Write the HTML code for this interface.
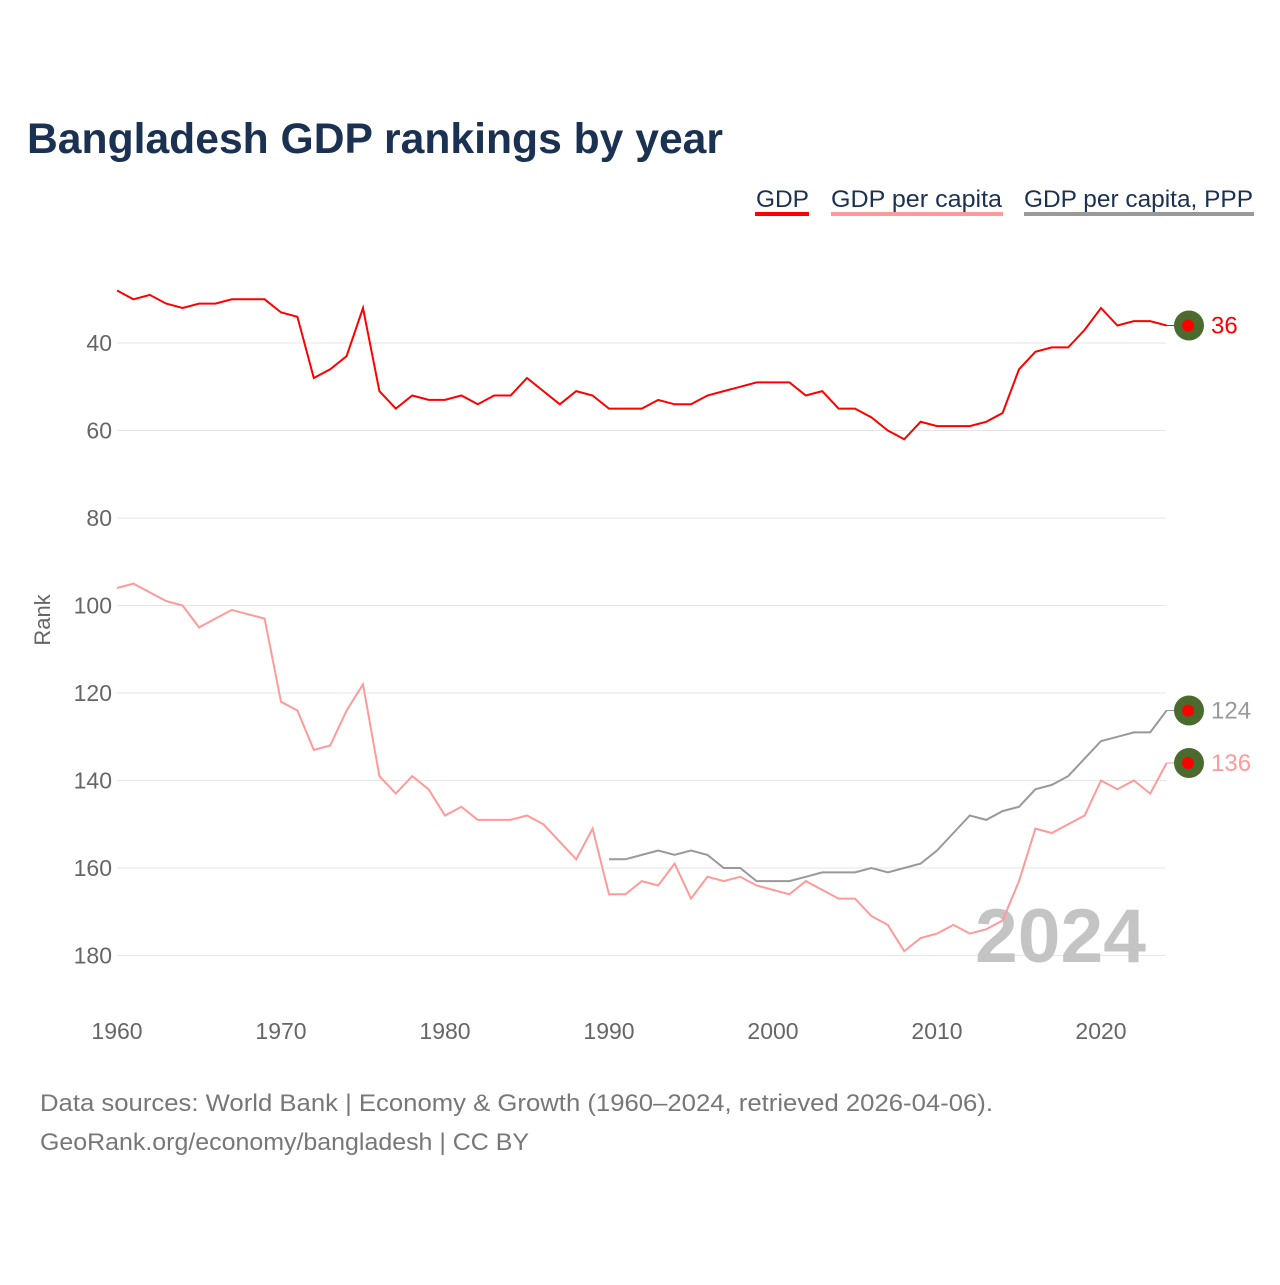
<!DOCTYPE html>
<html><head><meta charset="utf-8"><style>
body{margin:0;background:#fff;width:1280px;height:1280px;overflow:hidden;font-family:"Liberation Sans",sans-serif}
</style></head><body>
<svg id="c" width="1280" height="1280" xmlns="http://www.w3.org/2000/svg">
<text x="27" y="153" font-size="43" font-weight="bold" fill="#1b3152" textLength="696" lengthAdjust="spacingAndGlyphs">Bangladesh GDP rankings by year</text>
<g font-size="24" fill="#1b3152">
<g><text x="756" y="207" textLength="53" lengthAdjust="spacingAndGlyphs">GDP</text><rect x="755" y="212" width="54" height="4" fill="#ff0000"/></g>
<g><text x="831" y="207" textLength="171" lengthAdjust="spacingAndGlyphs">GDP per capita</text><rect x="831" y="212" width="172" height="4" fill="#ff9a9a"/></g>
<g><text x="1024" y="207" textLength="229" lengthAdjust="spacingAndGlyphs">GDP per capita, PPP</text><rect x="1024" y="212" width="230" height="4" fill="#999"/></g>
</g>
<g id="grid"></g>
<g id="yt" font-size="23" fill="#666" text-anchor="end"></g>
<g id="xt" font-size="23" fill="#666" text-anchor="middle"></g>
<text transform="translate(50,620) rotate(-90)" font-size="22" fill="#666" text-anchor="middle">Rank</text>
<text x="1146" y="962" font-size="76" font-weight="bold" fill="#c4c4c4" text-anchor="end" textLength="171" lengthAdjust="spacingAndGlyphs">2024</text>
<g id="series"></g>
<text x="40" y="1111" font-size="24" fill="#777" textLength="953" lengthAdjust="spacingAndGlyphs">Data sources: World Bank | Economy &amp; Growth (1960–2024, retrieved 2026-04-06).</text>
<text x="40" y="1150" font-size="24" fill="#777" textLength="489" lengthAdjust="spacingAndGlyphs">GeoRank.org/economy/bangladesh | CC BY</text>
</svg>
<script>
const yTicks=[40,60,80,100,120,140,160,180];
const xTicks=[1960,1970,1980,1990,2000,2010,2020];
const gdp=[28,30,29,31,32,31,31,30,30,30,33,34,48,46,43,32,51,55,52,53,53,52,54,52,52,48,51,54,51,52,55,55,55,53,54,54,52,51,50,49,49,49,52,51,55,55,57,60,62,58,59,59,59,58,56,46,42,41,41,37,32,36,35,35,36];
const gdpPc=[96,95,97,99,100,105,103,101,102,103,122,124,133,132,124,118,139,143,139,142,148,146,149,149,149,148,150,154,158,151,166,166,163,164,159,167,162,163,162,164,165,166,163,165,167,167,171,173,179,176,175,173,175,174,172,163,151,152,150,148,140,142,140,143,136];
const ppp=[158,158,157,156,157,156,157,160,160,163,163,163,162,161,161,161,160,161,160,159,156,152,148,149,147,146,142,141,139,135,131,130,129,129,124];
const ns="http://www.w3.org/2000/svg";
const X=y=>117+(y-1960)*16.4;
const Y=r=>343+(r-40)*4.375;
function mk(t,a,p){const e=document.createElementNS(ns,t);for(const k in a)e.setAttribute(k,a[k]);p.appendChild(e);return e;}
const grid=document.getElementById('grid'),yt=document.getElementById('yt'),xt=document.getElementById('xt'),S=document.getElementById('series');
yTicks.forEach(v=>{
 const l=mk('line',{x1:117,x2:1166,y1:Y(v),y2:Y(v),stroke:'#e6e6e6','stroke-width':1},grid);
 
 
 const t=mk('text',{x:112,y:Y(v)+8},yt);t.textContent=v;
 
 
});
xTicks.forEach(v=>{
 const t=mk('text',{x:X(v),y:1039},xt);t.textContent=v;
 
 
});
function line(vals,start,color,name){
 const pts=vals.map((v,i)=>X(start+i).toFixed(1)+','+Y(v).toFixed(1)).join(' ');
 const p=mk('polyline',{points:pts,fill:'none',stroke:color,'stroke-width':2},S);
 
 
 const last=vals[vals.length-1],yy=Y(last),x0=X(start+vals.length-1);
 const c=mk('line',{x1:x0,x2:1178,y1:yy,y2:yy,stroke:color,'stroke-width':1},S);
 
 
 const g=mk('circle',{cx:1189,cy:yy,r:15,fill:'#4b6a2e'},S);
 
 
 const d=mk('circle',{cx:1188,cy:yy,r:6,fill:'#ff0000'},S);
 
 
 const t=mk('text',{x:1211,y:yy+8,'font-size':24,fill:color},S);t.textContent=last;
 
 
}
line(ppp,1990,'#999999','gdp-per-capita-ppp');
line(gdpPc,1960,'#ff9a9a','gdp-per-capita');
line(gdp,1960,'#ff0000','gdp');
</script>
</body></html>
